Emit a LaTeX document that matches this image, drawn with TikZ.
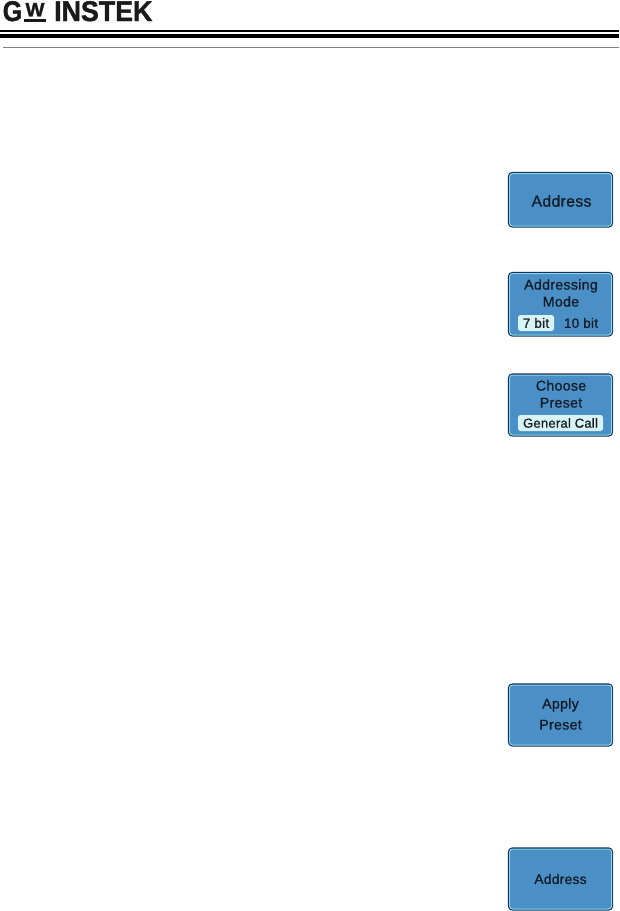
\documentclass[tikz,border=0pt]{standalone}
\usepackage{fontspec}
\setmainfont{Liberation Sans}
\newfontfamily\keyfont[FakeBold=0.8,LetterSpace=2]{Liberation Sans}
\newfontfamily\logofont[FakeBold=1.5]{Liberation Sans Bold}
\definecolor{btnblue}{HTML}{4A8FC6}
\definecolor{btnedge}{HTML}{1F2A66}
\definecolor{btnline}{HTML}{7FDCDC}
\definecolor{chipfill}{HTML}{D8F3F3}
\definecolor{btntext}{HTML}{161C28}
\definecolor{logoink}{HTML}{1A1A1A}
\tikzset{
    softkey/.style={rounded corners=3pt, fill=btnblue, draw=btnline, line width=1pt,
        preaction={draw=btnedge, line width=3.2pt}},
    keytext/.style={text=btntext, align=center, inner sep=0pt},
    chip/.style={rounded corners=2.5pt, fill=chipfill, text=btntext, inner sep=0pt, anchor=center},
    logotext/.style={inner sep=0pt, anchor=south west, text=logoink, font=\logofont\fontsize{28.5}{28.5}\selectfont}
}
\begin{document}
\begin{tikzpicture}[x=1pt, y=-1pt]
    \useasboundingbox (0,0) rectangle (619,911);
    % header
    \node[logotext] (logoG) at (2.5,21.5) {\scalebox{0.88}[1]{G}};
    \node[logotext] (logoName) at (54,21.5) {\scalebox{0.94}[1]{INSTEK}};
    \node[inner sep=0pt, anchor=south, text=logoink, font=\logofont\fontsize{16}{16}\selectfont] (logoW) at (35,16.5) {\scalebox{1.25}[1.2]{W}};
    \fill[logoink] (24,18.5) rectangle (46,21.5);
    \fill (0,30) rectangle (619,32);
    \fill (0,33.5) rectangle (619,38);
    \draw[gray, line width=0.8pt] (3,47.5) -- (619,47.5);
    % softkeys
    \path[softkey] (509.5,173.5) rectangle (611.5,226);
    \node[keytext, font=\keyfont\fontsize{15.8}{15.8}\selectfont] (address) at (561.5,201) {Address};
    \path[softkey] (509.5,273.5) rectangle (611.5,335);
    \node[keytext, font=\keyfont\fontsize{14.2}{17}\selectfont] (addrMode) at (561,293) {Addressing\\Mode};
    \node[chip, minimum width=36pt, minimum height=16pt, font=\keyfont\fontsize{13.5}{14}\selectfont] (sevenBit) at (536,323) {7 bit};
    \node[keytext, font=\keyfont\fontsize{13.5}{14}\selectfont] (tenBit) at (581,323) {10 bit};
    \path[softkey] (509.5,375) rectangle (611.5,435);
    \node[keytext, font=\keyfont\fontsize{14.2}{17}\selectfont] (choosePreset) at (561,394) {Choose\\Preset};
    \node[chip, minimum width=85pt, minimum height=16pt, font=\keyfont\fontsize{13}{14}\selectfont] (generalCall) at (560.5,423) {General Call};
    \path[softkey] (509.5,685) rectangle (611.5,745);
    \node[keytext, font=\keyfont\fontsize{14.2}{21}\selectfont] (applyPreset) at (560.5,714) {Apply\\Preset};
    \path[softkey] (509.5,849) rectangle (611.5,909);
    \node[keytext, font=\keyfont\fontsize{13.8}{14}\selectfont] (addressTwo) at (560.5,879) {Address};
\end{tikzpicture}
\end{document}
